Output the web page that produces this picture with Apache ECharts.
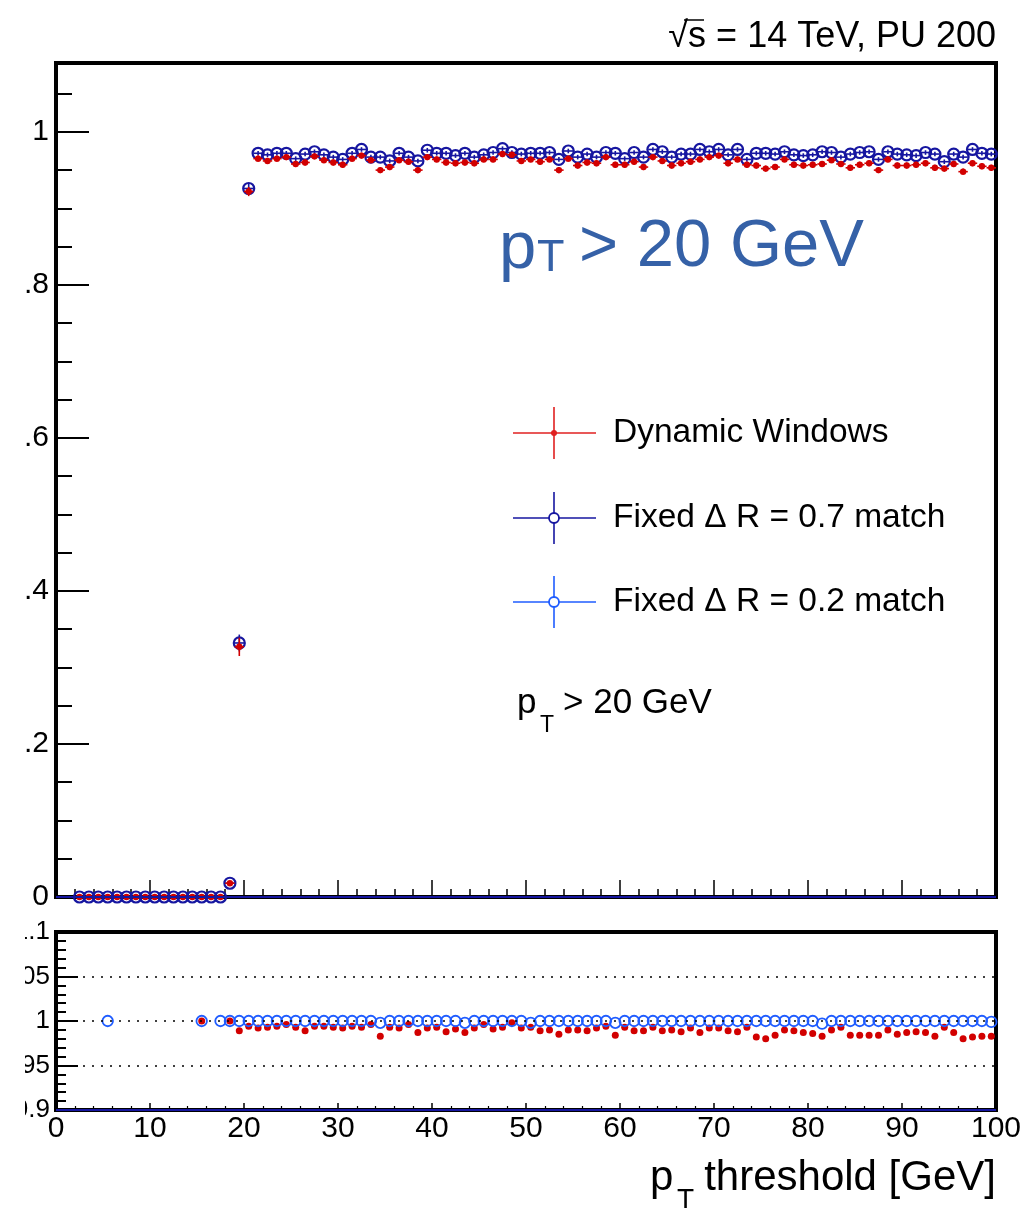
<!DOCTYPE html>
<html>
<head>
<meta charset="utf-8">
<title>Matching efficiency vs pT threshold</title>
<script src="https://cdn.jsdelivr.net/npm/echarts@6/dist/echarts.min.js"></script>
<style>
  html, body { margin: 0; padding: 0; background: #fff; }
  #chart { width: 1024px; height: 1209px; }
</style>
</head>
<body>
<div id="chart"></div>
<script>
// Bin centres of the pT threshold histogram (1 GeV bins)
const binCenters = [
  2.5, 3.5, 4.5, 5.5, 6.5, 7.5, 8.5, 9.5, 10.5, 11.5,
  12.5, 13.5, 14.5, 15.5, 16.5, 17.5, 18.5, 19.5, 20.5, 21.5,
  22.5, 23.5, 24.5, 25.5, 26.5, 27.5, 28.5, 29.5, 30.5, 31.5,
  32.5, 33.5, 34.5, 35.5, 36.5, 37.5, 38.5, 39.5, 40.5, 41.5,
  42.5, 43.5, 44.5, 45.5, 46.5, 47.5, 48.5, 49.5, 50.5, 51.5,
  52.5, 53.5, 54.5, 55.5, 56.5, 57.5, 58.5, 59.5, 60.5, 61.5,
  62.5, 63.5, 64.5, 65.5, 66.5, 67.5, 68.5, 69.5, 70.5, 71.5,
  72.5, 73.5, 74.5, 75.5, 76.5, 77.5, 78.5, 79.5, 80.5, 81.5,
  82.5, 83.5, 84.5, 85.5, 86.5, 87.5, 88.5, 89.5, 90.5, 91.5,
  92.5, 93.5, 94.5, 95.5, 96.5, 97.5, 98.5, 99.5
];

// Efficiency, fixed dR = 0.7 matching
const fixed07Eff = [
  0, 0, 0, 0, 0, 0, 0, 0, 0, 0,
  0, 0, 0, 0, 0, 0, 0.018, 0.332, 0.926,
  0.972, 0.970, 0.972, 0.972, 0.965, 0.971, 0.974, 0.970, 0.967, 0.964,
  0.972, 0.977, 0.967, 0.967, 0.962, 0.972, 0.967, 0.962, 0.976, 0.972,
  0.972, 0.969, 0.972, 0.967, 0.970, 0.973, 0.978, 0.973, 0.971, 0.972,
  0.972, 0.973, 0.964, 0.975, 0.967, 0.971, 0.967, 0.973, 0.972, 0.965,
  0.973, 0.967, 0.977, 0.974, 0.967, 0.971, 0.971, 0.977, 0.974, 0.977,
  0.970, 0.977, 0.964, 0.972, 0.972, 0.971, 0.974, 0.970, 0.969, 0.970,
  0.974, 0.973, 0.967, 0.971, 0.973, 0.974, 0.964, 0.974, 0.971, 0.970,
  0.969, 0.973, 0.971, 0.961, 0.971, 0.967, 0.977, 0.972, 0.971
];
const fixed07Err = [
  0, 0, 0, 0, 0, 0, 0, 0, 0, 0,
  0, 0, 0, 0, 0, 0, 0.003, 0.011, 0.006,
  0.003, 0.003, 0.003, 0.003, 0.003, 0.003, 0.003, 0.003, 0.003, 0.003,
  0.003, 0.003, 0.003, 0.003, 0.003, 0.003, 0.003, 0.003, 0.003, 0.003,
  0.003, 0.003, 0.003, 0.003, 0.003, 0.003, 0.003, 0.003, 0.003, 0.003,
  0.003, 0.003, 0.003, 0.003, 0.003, 0.003, 0.003, 0.003, 0.003, 0.003,
  0.003, 0.003, 0.003, 0.003, 0.003, 0.003, 0.003, 0.003, 0.003, 0.003,
  0.003, 0.003, 0.003, 0.003, 0.003, 0.003, 0.003, 0.003, 0.003, 0.003,
  0.003, 0.003, 0.003, 0.003, 0.003, 0.003, 0.003, 0.003, 0.003, 0.003,
  0.003, 0.003, 0.003, 0.003, 0.003, 0.003, 0.003, 0.003, 0.003
];

// Efficiency, dynamic windows
const dynEff = [
  0, 0, 0, 0, 0, 0, 0, 0, 0, 0,
  0, 0, 0, 0, 0, 0, 0.018, 0.327, 0.922,
  0.965, 0.962, 0.965, 0.967, 0.958, 0.960, 0.968, 0.963, 0.960, 0.957,
  0.965, 0.969, 0.963, 0.950, 0.954, 0.963, 0.961, 0.950, 0.967, 0.964,
  0.960, 0.959, 0.960, 0.959, 0.964, 0.964, 0.971, 0.970, 0.962, 0.964,
  0.961, 0.964, 0.950, 0.965, 0.956, 0.960, 0.959, 0.967, 0.957, 0.957,
  0.961, 0.954, 0.967, 0.962, 0.956, 0.959, 0.961, 0.964, 0.967, 0.969,
  0.959, 0.964, 0.957, 0.956, 0.952, 0.954, 0.964, 0.957, 0.956, 0.957,
  0.958, 0.963, 0.958, 0.953, 0.957, 0.959, 0.950, 0.964, 0.956, 0.956,
  0.957, 0.959, 0.953, 0.952, 0.958, 0.948, 0.959, 0.955, 0.953
];
const dynErr = [
  0, 0, 0, 0, 0, 0, 0, 0, 0, 0,
  0, 0, 0, 0, 0, 0, 0.003, 0.012, 0.006,
  0.004, 0.004, 0.004, 0.004, 0.004, 0.004, 0.004, 0.004, 0.004, 0.004,
  0.004, 0.004, 0.004, 0.004, 0.004, 0.004, 0.004, 0.004, 0.004, 0.004,
  0.004, 0.004, 0.004, 0.004, 0.004, 0.004, 0.004, 0.004, 0.004, 0.004,
  0.004, 0.004, 0.004, 0.004, 0.004, 0.004, 0.004, 0.004, 0.004, 0.004,
  0.004, 0.004, 0.004, 0.004, 0.004, 0.004, 0.004, 0.004, 0.004, 0.004,
  0.004, 0.004, 0.004, 0.004, 0.004, 0.004, 0.004, 0.004, 0.004, 0.004,
  0.004, 0.004, 0.004, 0.004, 0.004, 0.004, 0.004, 0.004, 0.004, 0.004,
  0.004, 0.004, 0.004, 0.004, 0.004, 0.004, 0.004, 0.004, 0.004
];

// Ratio to the fixed dR = 0.7 efficiency (null: no entry in that bin)
const ratioDyn = [
  null, null, null, null, null, null, null, null, null, null,
  null, null, null, 1.000, null, null, 1.000, 0.989, 0.994,
  0.992, 0.993, 0.994, 0.996, 0.993, 0.989, 0.994, 0.994, 0.993, 0.992,
  0.994, 0.993, 0.996, 0.983, 0.993, 0.992, 0.996, 0.987, 0.992, 0.993,
  0.988, 0.991, 0.987, 0.992, 0.996, 0.991, 0.993, 0.998, 0.992, 0.993,
  0.989, 0.990, 0.985, 0.990, 0.990, 0.989, 0.992, 0.994, 0.984, 0.993,
  0.989, 0.989, 0.993, 0.989, 0.990, 0.988, 0.992, 0.987, 0.992, 0.992,
  0.989, 0.988, 0.993, 0.982, 0.980, 0.984, 0.990, 0.989, 0.987, 0.986,
  0.983, 0.990, 0.993, 0.984, 0.984, 0.984, 0.984, 0.990, 0.985, 0.987,
  0.988, 0.987, 0.983, 0.993, 0.987, 0.980, 0.982, 0.983, 0.983
];
const ratioFixed02 = [
  null, null, null, 1.000, null, null, null, null, null, null,
  null, null, null, 1.000, null, 1.000, 1.000, 1.000, 1.000,
  1.000, 1.000, 1.000, 1.000, 1.000, 1.000, 1.000, 1.000, 1.000, 1.000,
  1.000, 1.000, 1.000, 0.998, 1.000, 1.000, 1.000, 1.000, 1.000, 1.000,
  1.000, 1.000, 0.998, 1.000, 1.000, 1.000, 1.000, 1.000, 1.000, 0.998,
  1.000, 1.000, 1.000, 1.000, 1.000, 1.000, 1.000, 1.000, 0.998, 1.000,
  1.000, 1.000, 1.000, 1.000, 1.000, 1.000, 1.000, 1.000, 1.000, 1.000,
  1.000, 1.000, 1.000, 1.000, 1.000, 1.000, 1.000, 1.000, 1.000, 1.000,
  0.997, 1.000, 1.000, 1.000, 1.000, 1.000, 1.000, 1.000, 1.000, 1.000,
  1.000, 1.000, 1.000, 1.000, 1.000, 1.000, 1.000, 1.000, 0.999
];

// Axis ticks
const effMajorTicks = [0, 0.2, 0.4, 0.6, 0.8, 1.0];
const effMinorTicks = [0.05, 0.1, 0.15, 0.25, 0.3, 0.35, 0.45, 0.5, 0.55, 0.65, 0.7, 0.75, 0.85, 0.9, 0.95, 1.05];
const ratioRefLines = [0.95, 1.0, 1.05];

const RED = '#d20000';
const NAVY = '#1616a0';
const AZURE = '#1f5cff';
const FONT = '"Liberation Sans", Arial, Helvetica, sans-serif';

const upperFixed = binCenters.map((x, i) => [x, fixed07Eff[i], fixed07Err[i]]);
const upperDyn = binCenters.map((x, i) => [x, dynEff[i], dynErr[i]]);
const lowerDyn = binCenters.map((x, i) => [x, ratioDyn[i]]).filter(p => p[1] !== null);
const lowerFixed02 = binCenters.map((x, i) => [x, ratioFixed02[i]]).filter(p => p[1] !== null);

// Marker with horizontal (bin width) and vertical (stat.) error bars
function errorMarker(color, radius, filled) {
  return function (params, api) {
    const x = api.value(0), y = api.value(1), e = api.value(2);
    const c = api.coord([x, y]);
    const xl = api.coord([x - 0.5, y])[0];
    const xr = api.coord([x + 0.5, y])[0];
    const yt = api.coord([x, y + e])[1];
    const yb = api.coord([x, y - e])[1];
    return {
      type: 'group',
      children: [
        { type: 'line', shape: { x1: xl, y1: c[1], x2: xr, y2: c[1] }, style: { stroke: color, lineWidth: 1.6 } },
        { type: 'line', shape: { x1: c[0], y1: yt, x2: c[0], y2: yb }, style: { stroke: color, lineWidth: 1.6 } },
        { type: 'circle', shape: { cx: c[0], cy: c[1], r: radius },
          style: filled ? { fill: color } : { fill: 'none', stroke: color, lineWidth: 2.2 } }
      ]
    };
  };
}

const axisLabelStyle = { color: '#000', fontFamily: FONT, fontSize: 30 };

const chart = echarts.init(document.getElementById('chart'), null, { renderer: 'canvas' });

// Legend entries: marker cross + label
function legendEntry(y, color, filled, text) {
  return [
    { type: 'line', shape: { x1: 513, y1: y, x2: 596, y2: y }, style: { stroke: color, lineWidth: 1.6 } },
    { type: 'line', shape: { x1: 554, y1: y - 26, x2: 554, y2: y + 26 }, style: { stroke: color, lineWidth: 1.6 } },
    { type: 'circle', shape: { cx: 554, cy: y, r: filled ? 3 : 5 },
      style: filled ? { fill: color } : { fill: '#fff', stroke: color, lineWidth: 1.8 } },
    { type: 'text', x: 613, y: y, style: { text: text, fill: '#000', font: '33.5px ' + FONT, textVerticalAlign: 'middle' } }
  ];
}

chart.setOption({
  animation: false,
  backgroundColor: '#fff',
  grid: [
    { left: 56, top: 63, width: 940, height: 834, show: true, borderColor: '#000', borderWidth: 4,
      backgroundColor: 'transparent', containLabel: false, outerBoundsMode: 'none' },
    { left: 56, top: 932, width: 940, height: 178, show: true, borderColor: '#000', borderWidth: 4,
      backgroundColor: 'transparent', containLabel: false, outerBoundsMode: 'none' }
  ],
  xAxis: [
    {
      gridIndex: 0, type: 'value', min: 0, max: 100, interval: 10,
      axisLine: { show: false },
      axisTick: { inside: true, length: 17, lineStyle: { color: '#000', width: 1.5 } },
      minorTick: { show: true, splitNumber: 5, length: 8, lineStyle: { color: '#000', width: 1.5 } },
      axisLabel: { show: false },
      splitLine: { show: false }
    },
    {
      gridIndex: 1, type: 'value', min: 0, max: 100, interval: 10,
      axisLine: { show: false },
      axisTick: { inside: true, length: 7, lineStyle: { color: '#000', width: 1.5 } },
      minorTick: { show: true, splitNumber: 5, length: 4, lineStyle: { color: '#000', width: 1.2 } },
      axisLabel: Object.assign({ margin: 4 }, axisLabelStyle),
      splitLine: { show: false }
    }
  ],
  yAxis: [
    {
      gridIndex: 0, type: 'value', min: 0, max: 1.09, position: 'left',
      axisLine: { show: false },
      axisTick: { inside: true, length: 33, customValues: effMajorTicks, lineStyle: { color: '#000', width: 2 } },
      axisLabel: Object.assign({
        margin: 7, customValues: effMajorTicks,
        formatter: v => String(Number(v.toFixed(1)))
      }, axisLabelStyle),
      splitLine: { show: false }
    },
    {
      gridIndex: 0, type: 'value', min: 0, max: 1.09, position: 'left',
      axisLine: { show: false },
      axisTick: { inside: true, length: 16, customValues: effMinorTicks, lineStyle: { color: '#000', width: 2 } },
      axisLabel: { show: false },
      splitLine: { show: false }
    },
    {
      gridIndex: 1, type: 'value', min: 0.9, max: 1.1, interval: 0.05, position: 'left',
      axisLine: { show: false },
      axisTick: { inside: true, length: 22, lineStyle: { color: '#000', width: 2 } },
      minorTick: { show: true, splitNumber: 5, length: 10, lineStyle: { color: '#000', width: 2 } },
      axisLabel: {
        margin: 6, color: '#000', fontFamily: FONT, fontSize: 26,
        formatter: v => String(Number(v.toFixed(2)))
      },
      splitLine: { show: false }
    }
  ],
  series: [
    {
      name: 'Fixed ΔR = 0.7 match',
      type: 'custom', xAxisIndex: 0, yAxisIndex: 0,
      renderItem: errorMarker(NAVY, 5.5, false),
      data: upperFixed,
      encode: { x: 0, y: 1 },
      z: 3,
      markLine: {
        silent: true, symbol: 'none', animation: false,
        label: { show: false },
        lineStyle: { color: NAVY, width: 2, type: 'solid' },
        data: [{ yAxis: 0 }]
      }
    },
    {
      name: 'Dynamic Windows',
      type: 'custom', xAxisIndex: 0, yAxisIndex: 0,
      renderItem: errorMarker(RED, 3.2, true),
      data: upperDyn,
      encode: { x: 0, y: 1 },
      z: 4
    },
    {
      name: 'Ratio Dynamic Windows',
      type: 'scatter', xAxisIndex: 1, yAxisIndex: 2,
      symbol: 'circle', symbolSize: 7,
      itemStyle: { color: RED, opacity: 1 },
      data: lowerDyn,
      z: 3,
      markLine: {
        silent: true, symbol: 'none', animation: false,
        label: { show: false },
        lineStyle: { color: '#000', width: 1.5, type: [2, 7] },
        data: ratioRefLines.map(v => ({ yAxis: v }))
      }
    },
    {
      name: 'Ratio Fixed ΔR = 0.2 match',
      type: 'scatter', xAxisIndex: 1, yAxisIndex: 2,
      symbol: 'circle', symbolSize: 10.5,
      itemStyle: { color: 'rgba(0,0,0,0)', borderColor: AZURE, borderWidth: 1.8, opacity: 1 },
      data: lowerFixed02,
      z: 4,
      markLine: {
        silent: true, symbol: 'none', animation: false,
        label: { show: false },
        lineStyle: { color: NAVY, width: 2, type: 'solid' },
        data: [{ yAxis: 0.9 }]
      }
    }
  ],
  graphic: [
    // energy / pile-up tag
    { type: 'text', x: 996, y: 37, style: { text: '√s = 14 TeV, PU 200', fill: '#000', font: '36px ' + FONT, textAlign: 'right', textVerticalAlign: 'middle' } },
    { type: 'line', shape: { x1: 684, y1: 20, x2: 704, y2: 20 }, style: { stroke: '#000', lineWidth: 1.5 } },
    // large selection label
    { type: 'text', x: 499, y: 250, style: { text: 'p', fill: '#3561a7', font: '67px ' + FONT, textVerticalAlign: 'middle' } },
    { type: 'text', x: 537, y: 259, style: { text: 'T', fill: '#3561a7', font: '45px ' + FONT, textVerticalAlign: 'middle' } },
    { type: 'text', x: 579, y: 248, style: { text: '> 20 GeV', fill: '#3561a7', font: '67px ' + FONT, textVerticalAlign: 'middle' } },
    // legend
    ...legendEntry(433, '#e02020', true, 'Dynamic Windows'),
    ...legendEntry(518, NAVY, false, 'Fixed Δ R = 0.7 match'),
    ...legendEntry(602, AZURE, false, 'Fixed Δ R = 0.2 match'),
    // selection note
    { type: 'text', x: 517, y: 703, style: { text: 'p', fill: '#000', font: '35px ' + FONT, textVerticalAlign: 'middle' } },
    { type: 'text', x: 540, y: 726, style: { text: 'T', fill: '#000', font: '23px ' + FONT, textVerticalAlign: 'middle' } },
    { type: 'text', x: 563, y: 703, style: { text: '> 20 GeV', fill: '#000', font: '35px ' + FONT, textVerticalAlign: 'middle' } },
    // x-axis title
    { type: 'text', x: 996, y: 1178, style: { text: 'threshold [GeV]', fill: '#000', font: '42px ' + FONT, textAlign: 'right', textVerticalAlign: 'middle' } },
    { type: 'text', x: 650, y: 1178, style: { text: 'p', fill: '#000', font: '42px ' + FONT, textVerticalAlign: 'middle' } },
    { type: 'text', x: 677, y: 1200, style: { text: 'T', fill: '#000', font: '28px ' + FONT, textVerticalAlign: 'middle' } },
    // page margin to the left of the axis labels
    { type: 'rect', shape: { x: 0, y: 0, width: 25, height: 1209 }, style: { fill: '#fff' }, z: 100 }
  ]
});
</script>
</body>
</html>
